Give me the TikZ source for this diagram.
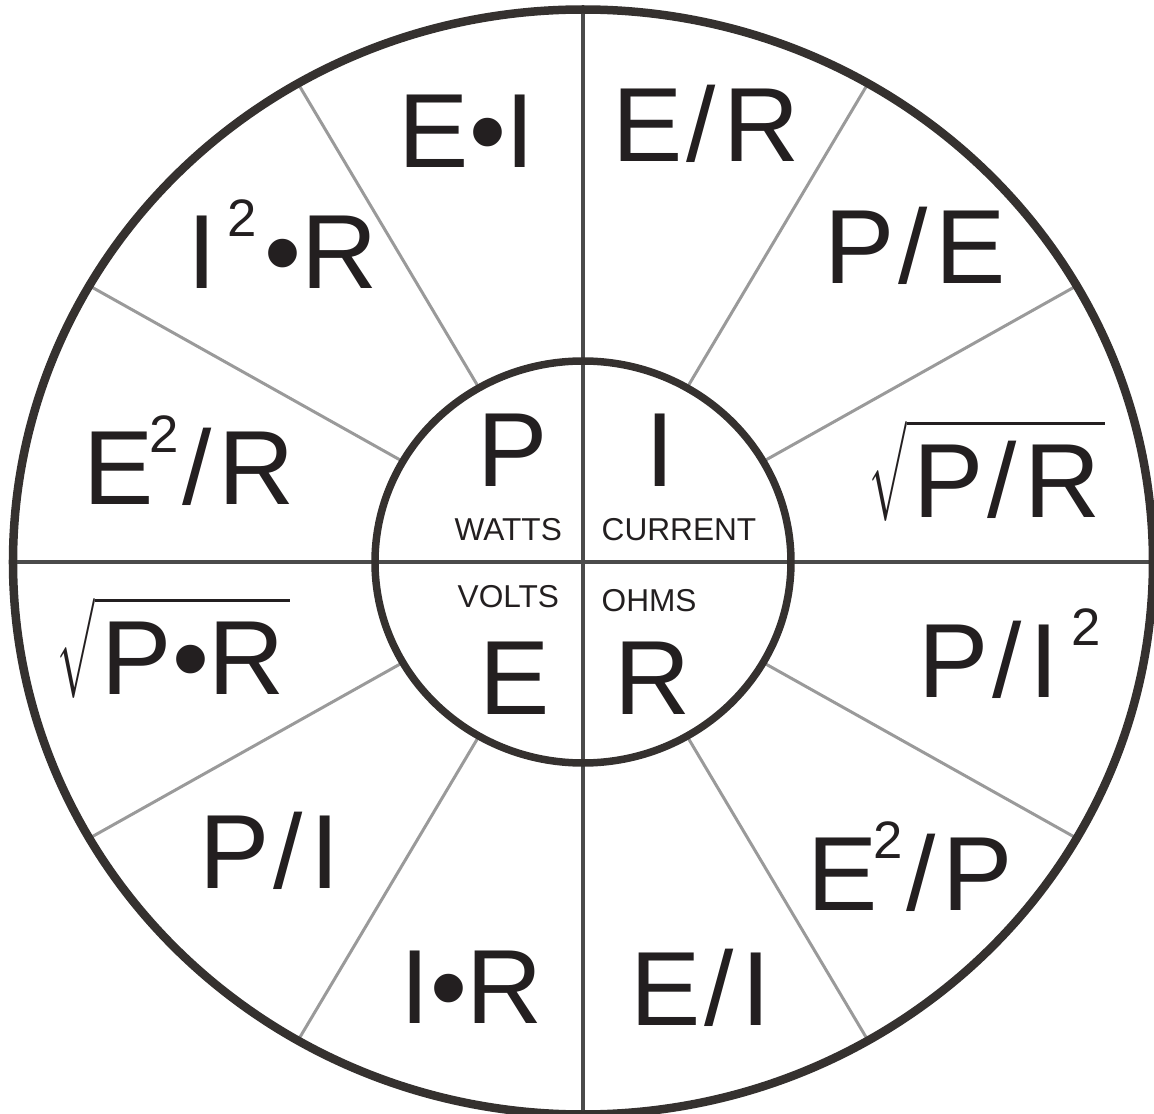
\documentclass[tikz,border=0pt]{standalone}
\usepackage{fontspec}
\setmainfont{Liberation Sans}
\usepackage{graphicx}
\definecolor{ink}{HTML}{231F20}
\definecolor{rim}{HTML}{35312F}
\definecolor{cross}{HTML}{4B4B4B}
\definecolor{spoke}{HTML}{9A9A9A}
\newcommand\per{\kern0.04cm/\kern0.07cm}
\newcommand\sqd[1]{\kern#1\raisebox{0.52cm}{\fontsize{15}{17}\selectfont 2}}
\newcommand\rootof[1]{\sbox2{\resizebox*{0.37cm}{1cm}{$\surd$}}%
  \raisebox{\dimexpr\dp2-0.04cm\relax}{\usebox2}%
  \sbox0{\kern0.07cm#1\kern0.05cm}\rlap{\rule[0.925cm]{\wd0}{0.035cm}}\usebox0}

\begin{document}
\begin{tikzpicture}[
    big/.style={anchor=base west,inner sep=0pt,text=ink,font=\fontsize{30}{36}\selectfont},
    small/.style={anchor=base west,inner sep=0pt,text=ink,font=\fontsize{9}{11}\selectfont}]
  \useasboundingbox (-5.83,-5.52) rectangle (5.71,5.62);
  \coordinate (O) at (0,0);
  \draw[spoke,line width=0.03cm] foreach \a in {30,60,120,150,210,240,300,330}
    {({2.08*cos(\a)},{2.01*sin(\a)}) -- ({5.70*cos(\a)},{5.525*sin(\a)})};
  \draw[cross,line width=0.035cm] (0,5.52) -- (0,-5.55) (-5.69,0) -- (5.67,0);
  \draw[rim,line width=0.085cm] (O) ellipse [x radius=5.70,y radius=5.525];
  \draw[rim,line width=0.075cm] (O) ellipse [x radius=2.08,y radius=2.01];

  \node[big] (p) at (-1.06,0.75) {P};
  \node[big] (i) at (0.62,0.75) {I};
  \node[big] (e) at (-1.04,-1.52) {E};
  \node[big] (r) at (0.31,-1.52) {R};
  \node[small] (watts) at (-1.29,0.21) {WATTS};
  \node[small] (current) at (0.18,0.21) {CURRENT};
  \node[small] (volts) at (-1.26,-0.45) {VOLTS};
  \node[small] (ohms) at (0.18,-0.49) {OHMS};

  \node[big] (ei) at (-1.85,3.94) {E•I};
  \node[big] (er) at (0.29,4.00) {E\per R};
  \node[big] (pe) at (2.41,2.79) {P\per E};
  \node[big] (iir) at (-3.96,2.73) {I\sqd{0.11cm}\kern0.07cm•R};
  \node[big] (eer) at (-5.00,0.58) {E\sqd{-0.05cm}\per R};
  \node[big] (spr) at (2.86,0.44) {\rootof{P\per R}};
  \node[big] (spir) at (-5.26,-1.33) {\rootof{P•R}};
  \node[big] (pii) at (3.35,-1.35) {P\per I\sqd{0.13cm}};
  \node[big] (pi) at (-3.84,-3.26) {P\per I};
  \node[big] (eep) at (2.24,-3.48) {E\sqd{-0.05cm}\per P};
  \node[big] (ir) at (-1.83,-4.61) {I•R};
  \node[big] (ei2) at (0.47,-4.63) {E\per I};
\end{tikzpicture}
\end{document}
